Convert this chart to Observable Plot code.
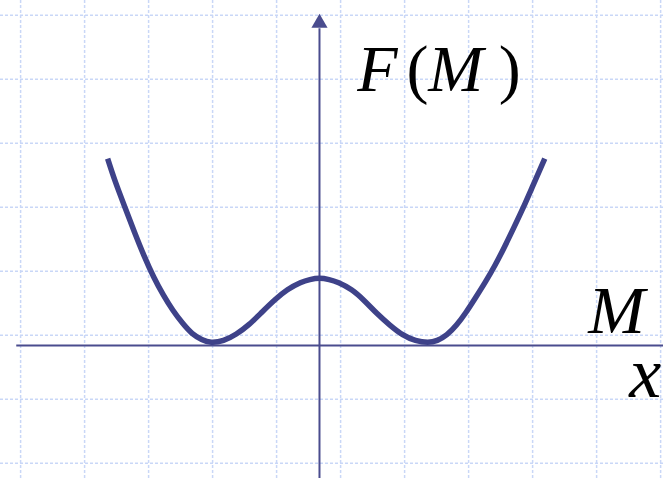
<!DOCTYPE html>
<html>
<head>
<meta charset="utf-8">
<script src="https://cdn.jsdelivr.net/npm/d3@7"></script>
<script src="https://cdn.jsdelivr.net/npm/@observablehq/plot@0.6"></script>
<style>
  html, body { margin: 0; padding: 0; background: #ffffff; }
  #chart { width: 663px; height: 478px; overflow: hidden; }
</style>
</head>
<body>
<div id="chart"></div>
<script>
// Curve F(M) (1 unit = one grid cell)
const curveM = [-3.31,-3.19,-3.04,-2.89,-2.74,-2.59,-2.44,-2.29,-2.14,-1.99,-1.84,
                -1.69,-1.50,-1.30,-1.10,-0.90,-0.70,-0.50,-0.30,-0.15,0,
                0.15,0.30,0.50,0.70,0.90,1.10,1.30,1.50,
                1.69,1.84,1.99,2.14,2.29,2.44,2.59,2.74,2.89,3.04,3.19,3.34,3.52];
const curveF = [2.92,2.56,2.16,1.77,1.40,1.07,0.79,0.55,0.35,0.19,0.095,
                0.05,0.08,0.18,0.33,0.52,0.71,0.87,0.98,1.03,1.05,
                1.03,0.98,0.87,0.70,0.50,0.32,0.17,0.08,
                0.05,0.08,0.17,0.32,0.52,0.75,0.99,1.25,1.54,1.85,2.17,2.51,2.92];

// Background grid (tick positions)
const gridM = [-4.67,-3.67,-2.67,-1.67,-0.67,0.33,1.33,2.33,3.33,4.33,5.33];
const gridF = [5.16,4.16,3.16,2.16,1.16,0.16,-0.84,-1.84];

// Axis extents
const xDomain = [-4.984, 5.375];
const yDomain = [-2.078, 5.391];
const hAxisStart = -4.73;
const vAxisTop = 4.95;
const arrowF = 5.04;

// Labels
const labelText  = ["F", "(", "M", ")", "M", "x"];
const labelM     = [0.59, 1.36, 1.70, 2.80, 4.20, 4.84];
const labelF     = [3.98, 3.98, 3.98, 3.98, 0.19, -0.81];
const labelItal  = [true, false, true, false, true, true];
const labelSize  = [66, 66, 66, 66, 68, 72];

const curve = curveM.map((m, i) => ({M: m, F: curveF[i]}));
const labels = labelText.map((t, i) => ({t, M: labelM[i], F: labelF[i], ital: labelItal[i], size: labelSize[i]}));

const axisColor = "#4a4c8e";
const gridStyle = {stroke: "#c9d7f7", strokeWidth: 1.5, strokeDasharray: "3,2"};

const textMarks = labels.map(d => Plot.text([d], {
  x: "M", y: "F", text: "t",
  fontFamily: "Liberation Serif",
  fontStyle: d.ital ? "italic" : "normal",
  fontSize: d.size,
  fill: "#000000",
  textAnchor: "start",
  lineAnchor: "bottom"
}));

const chart = Plot.plot({
  width: 663,
  height: 478,
  margin: 0,
  x: {domain: xDomain, axis: null},
  y: {domain: yDomain, axis: null},
  style: {background: "#ffffff", overflow: "hidden"},
  marks: [
    Plot.ruleX(gridM, gridStyle),
    Plot.ruleY(gridF, gridStyle),
    Plot.ruleY([0], {x1: () => hAxisStart, x2: () => xDomain[1], stroke: axisColor, strokeWidth: 2}),
    Plot.ruleX([0], {y1: () => yDomain[0], y2: () => vAxisTop, stroke: axisColor, strokeWidth: 2}),
    Plot.dot([0], {x: () => 0, y: () => arrowF, symbol: "triangle", r: 6, fill: axisColor, stroke: "none"}),
    Plot.line(curve, {x: "M", y: "F", curve: "natural", stroke: "#3e4289", strokeWidth: 5.5, strokeLinecap: "butt"}),
    ...textMarks
  ]
});
document.getElementById("chart").appendChild(chart);
</script>
</body>
</html>
